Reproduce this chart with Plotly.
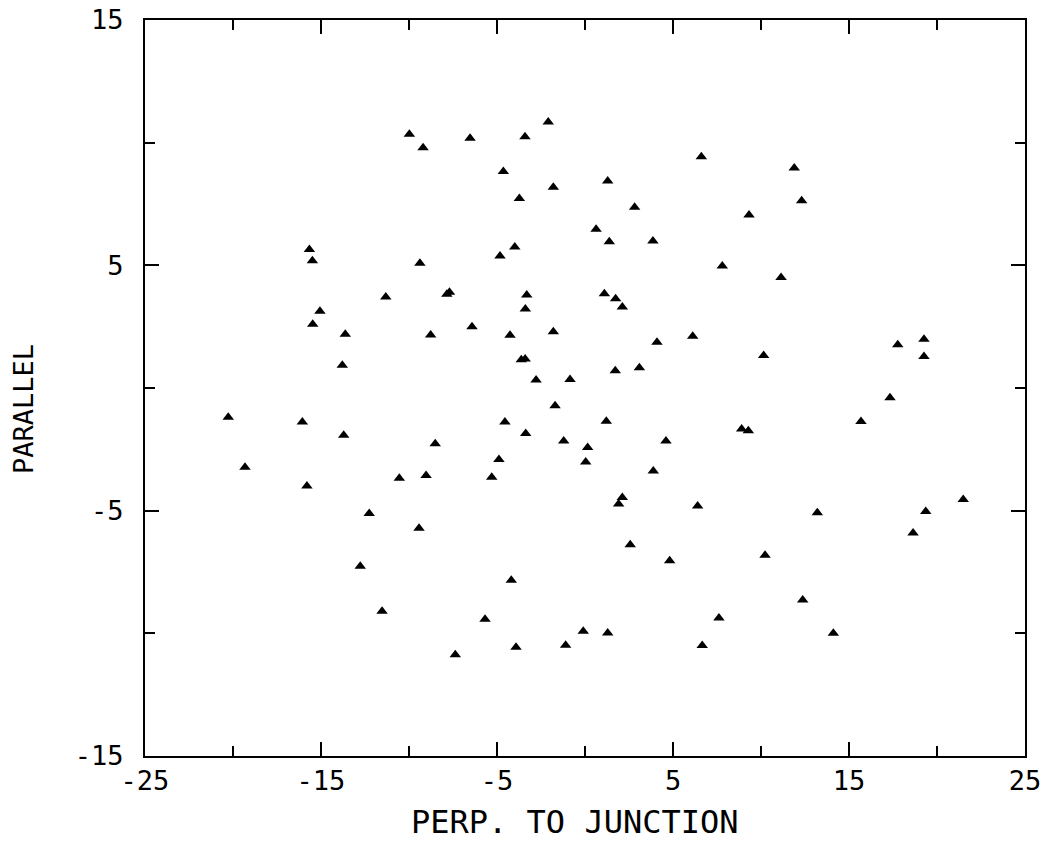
import plotly.graph_objects as go

# Positions of the measured sites: perpendicular and parallel distance to the junction
perp = [
    -20.27, -19.32, -16.06, -15.80, -15.66, -15.49, -15.06, -15.47, -13.62, -13.79,
    -13.71, -12.77, -12.26, -11.53, -11.32, -10.55, -9.98, -9.20, -9.38, -9.43,
    -9.03, -8.77, -8.51, -7.85, -7.70, -7.37, -6.53, -6.42, -5.68, -5.30,
    -4.89, -4.83, -4.64, -4.55, -4.26, -4.19, -3.99, -3.92, -3.73, -3.62,
    -3.40, -3.41, -3.39, -3.31, -3.37, -2.78, -2.09, -1.80, -1.80, -1.70,
    -1.21, -1.10, -0.85, -0.10, 0.04, 0.15, 0.63, 1.10, 1.21, 1.29,
    1.29, 1.38, 1.74, 2.12, 1.72, 2.12, 1.91, 2.57, 2.82, 3.09,
    3.86, 3.88, 4.09, 4.60, 4.81, 6.12, 6.40, 6.61, 6.66, 7.61,
    7.80, 8.90, 9.28, 9.32, 10.15, 10.23, 11.14, 11.89, 12.31, 12.37,
    13.20, 14.11, 15.68, 17.33, 17.77, 18.64, 19.26, 19.26, 19.36, 21.49,
]
parallel = [
    -1.19, -3.23, -1.39, -3.99, 5.65, 5.19, 3.13, 2.60, 2.19, 0.93,
    -1.93, -7.27, -5.12, -9.10, 3.71, -3.68, 10.34, 9.79, 5.08, -5.72,
    -3.57, 2.16, -2.27, 3.82, 3.90, -10.87, 10.18, 2.50, -9.43, -3.64,
    -2.91, 5.38, 8.82, -1.39, 2.15, -7.84, 5.75, -10.57, 7.72, 1.15,
    1.18, 10.24, 3.22, 3.79, -1.85, 0.33, 10.84, 8.18, 2.29, -0.72,
    -2.16, -10.49, 0.35, -9.92, -3.02, -2.43, 6.47, 3.84, -1.36, 8.44,
    -9.99, 5.96, 3.64, 3.30, 0.70, -4.46, -4.73, -6.39, 7.37, 0.83,
    5.99, -3.38, 1.86, -2.16, -7.04, 2.11, -4.81, 9.43, -10.50, -9.38,
    4.97, -1.67, -1.74, 7.05, 1.32, -6.82, 4.50, 8.97, 7.63, -8.64,
    -5.08, -10.00, -1.37, -0.40, 1.76, -5.91, 1.99, 1.28, -5.03, -4.54,
]

x_ticks = [-25, -15, -5, 5, 15, 25]
y_ticks = [-15, -5, 5, 15]

font_family = "DejaVu Sans Mono"

fig = go.Figure(
    go.Scatter(
        x=perp,
        y=parallel,
        mode="markers",
        marker=dict(symbol="triangle-up", size=10, color="black", line=dict(width=0)),
        showlegend=False,
        hoverinfo="x+y",
    )
)

axis_common = dict(
    showgrid=False,
    zeroline=False,
    showline=True,
    linecolor="black",
    linewidth=2,
    mirror="ticks",
    ticks="inside",
    ticklen=14,
    tickwidth=2,
    tickcolor="black",
    automargin=False,
    tickfont=dict(family=font_family, size=27, color="black"),
    minor=dict(dtick=5, ticks="inside", ticklen=10, tickwidth=2, tickcolor="black"),
)

fig.update_xaxes(
    range=[-25, 25],
    tickmode="array",
    tickvals=x_ticks,
    ticktext=[str(v) for v in x_ticks],
    **axis_common,
)
fig.update_yaxes(
    range=[-15, 15],
    tickmode="array",
    tickvals=y_ticks,
    ticktext=[str(v) for v in y_ticks],
    ticklabelstandoff=14,
    **axis_common,
)

# Axis titles placed as annotations relative to the plotting area
fig.add_annotation(
    text="PERP. TO JUNCTION",
    xref="paper", yref="paper",
    x=0.4886, y=-0.1168,
    xanchor="center", yanchor="bottom",
    showarrow=False,
    borderpad=0,
    font=dict(family=font_family, size=32, color="black"),
)
fig.add_annotation(
    text="PARALLEL",
    xref="paper", yref="paper",
    x=-0.1375, y=0.4715,
    xanchor="center", yanchor="middle",
    textangle=-90,
    showarrow=False,
    font=dict(family=font_family, size=27, color="black"),
)

fig.update_layout(
    width=1046,
    height=843,
    margin=dict(l=145, r=21, t=20, b=87),
    paper_bgcolor="white",
    plot_bgcolor="white",
)

fig.write_html("out.html")
